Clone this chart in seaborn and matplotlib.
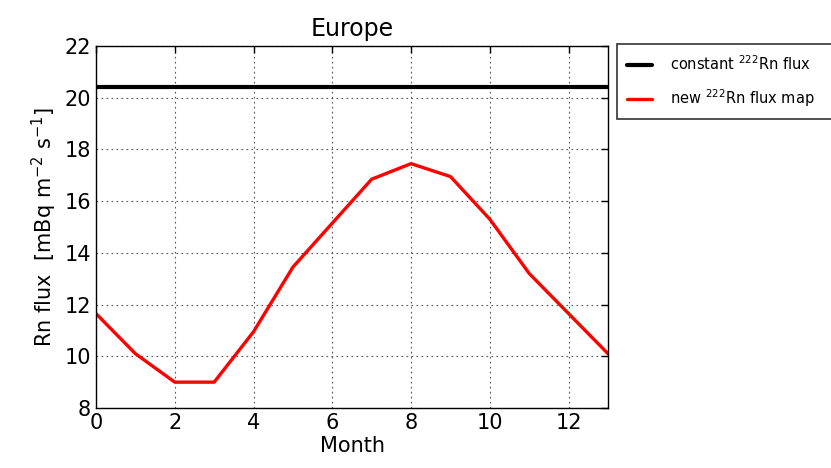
import matplotlib
matplotlib.use("Agg")
import matplotlib.pyplot as plt
import seaborn as sns
import pandas as pd

months = [0, 1, 2, 3, 4, 5, 6, 7, 8, 9, 10, 11, 12, 13]
new_flux = [11.65, 10.1, 9.0, 9.0, 10.95, 13.45, 15.15, 16.85, 17.45, 16.95, 15.3, 13.2, 11.65, 10.1]
constant_flux = [20.4] * len(months)

xticks = [0, 2, 4, 6, 8, 10, 12]
yticks = [8, 10, 12, 14, 16, 18, 20, 22]

labels = ["constant $^{222}$Rn flux", "new $^{222}$Rn flux map"]

sns.set_style("white")
plt.rcParams.update({
    "font.family": ["DejaVu Sans"],
    "xtick.direction": "in",
    "ytick.direction": "in",
    "xtick.top": True,
    "ytick.right": True,
    "axes.edgecolor": "black",
    "axes.linewidth": 1.0,
    "text.color": "black",
    "axes.labelcolor": "black",
})

df = pd.DataFrame({
    "Month": months * 2,
    "flux": constant_flux + new_flux,
    "series": [labels[0]] * len(months) + [labels[1]] * len(months),
})

fig = plt.figure(figsize=(8.31, 4.68), dpi=100)
ax = fig.add_axes([96 / 831, 1 - 408 / 468, (608 - 96) / 831, (408 - 46) / 468])

sns.lineplot(data=df, x="Month", y="flux", hue="series",
             palette=["black", "red"], ax=ax, legend=False)
ax.get_lines()[0].set_linewidth(3.0)
ax.get_lines()[1].set_linewidth(2.4)

ax.set_xlim(0, 13)
ax.set_ylim(8, 22)
ax.set_xticks(xticks)
ax.set_yticks(yticks)
ax.tick_params(labelsize=15, colors="black", length=5, width=1)
ax.grid(True, color="#555555", linestyle=(0, (1.5, 3)), linewidth=0.8)
ax.set_xlabel("Month", fontsize=15, labelpad=2)
ax.set_ylabel("Rn flux  [mBq m$^{-2}$ s$^{-1}$]", fontsize=15)
ax.set_title("Europe", fontsize=17, color="black", pad=7)

handles = ax.get_lines()[:2]
leg = ax.legend(handles, labels,
                loc="upper left", mode="expand", borderaxespad=0,
                bbox_to_anchor=(1.0176, 0.82, 0.44, 0.185), fontsize=10.5,
                frameon=True, fancybox=False, edgecolor="black",
                handlelength=1.7, handletextpad=1.2, borderpad=0.7,
                labelspacing=0.95)
leg.get_frame().set_linewidth(1.2)
leg.set_clip_on(False)

fig.savefig("out.png", dpi=100)
